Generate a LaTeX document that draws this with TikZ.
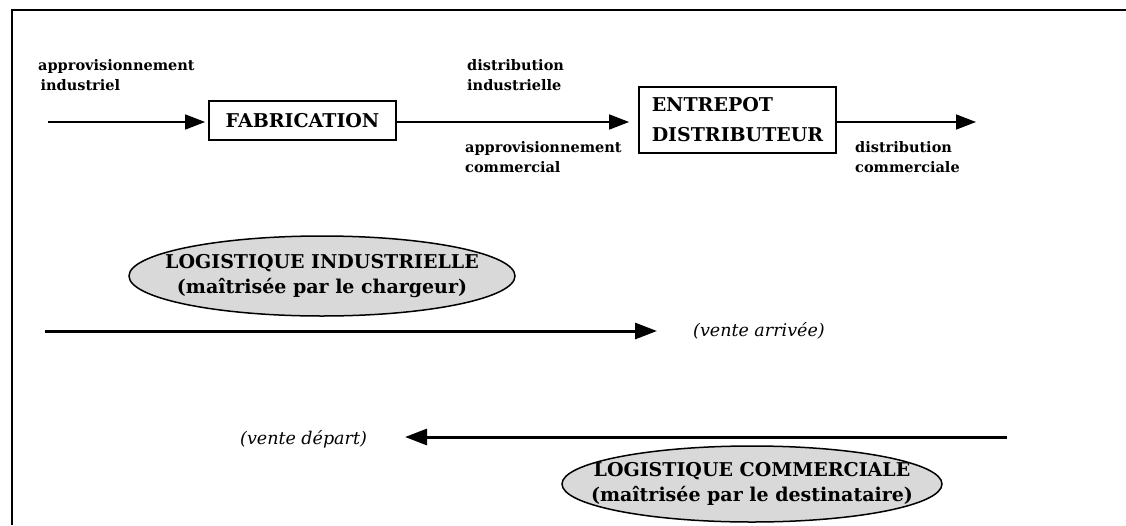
\documentclass[tikz,border=0pt]{standalone}
\usepackage{fontspec}
\setmainfont{DejaVu Serif}
\usetikzlibrary{arrows.meta,shapes.geometric}
\begin{document}
\begin{tikzpicture}[x=1pt,y=-1pt,
  lbl/.style={anchor=north west,align=left,inner sep=0pt,font=\fontsize{14.5}{20}\selectfont\bfseries},
  boxnode/.style={draw,line width=1.8pt,inner sep=0pt,font=\fontsize{19}{30}\selectfont\bfseries,align=left},
  flow/.style={line width=1.6pt,-{Triangle[length=20pt,width=15pt]}},
  bigflow/.style={line width=3pt,-{Triangle[length=22pt,width=16pt]}},
  oval/.style={ellipse,draw,line width=1.5pt,fill=gray!30,inner sep=0pt,align=center,font=\fontsize{19}{25}\selectfont\bfseries},
  note/.style={inner sep=0pt,font=\fontsize{17.5}{20}\selectfont\itshape}]
\useasboundingbox (0,0) rectangle (1126,525);
\draw[line width=2pt] (12,525) -- (12,10) -- (1126,10);
% top row
\node[boxnode,minimum width=187pt,minimum height=39pt] (fab) at (302.5,120.5) {FABRICATION};
\node[boxnode,minimum width=197pt,minimum height=66pt] (ent) at (737.5,120) {ENTREPOT\\DISTRIBUTEUR};
\coordinate (in1) at (48,122);
\coordinate (out1) at (976,122);
\draw[flow,shorten >=3pt] (in1) -- (fab.west|-in1);
\draw[flow,shorten >=9pt] (fab.east|-in1) -- (ent.west|-in1);
\draw[flow] (ent.east|-in1) -- (out1);
\node[lbl] (l1) at (38,59) {approvisionnement\\\,industriel};
\node[lbl] (l2) at (467,59) {distribution\\industrielle};
\node[lbl] (l3) at (465,141) {approvisionnement\\commercial};
\node[lbl] (l4) at (855,141) {distribution\\commerciale};
% logistics
\node[oval,minimum width=386pt,minimum height=80pt] (li) at (322,276) {\makebox[0pt]{LOGISTIQUE INDUSTRIELLE}\\\makebox[0pt]{(maîtrisée par le chargeur)}};
\coordinate (a1s) at (45,331);
\coordinate (a1e) at (657,331);
\draw[bigflow] (a1s) -- (a1e);
\node[note,anchor=west] (va) at (693,331) {(vente arrivée)};
\coordinate (a2s) at (1007,437);
\coordinate (a2e) at (405,437);
\draw[bigflow] (a2s) -- (a2e);
\node[note,anchor=west] (vd) at (240,439) {(vente départ)};
\node[oval,minimum width=380pt,minimum height=76pt] (lc) at (752,484) {\makebox[0pt]{LOGISTIQUE COMMERCIALE}\\\makebox[0pt]{(maîtrisée par le destinataire)}};
\end{tikzpicture}
\end{document}
